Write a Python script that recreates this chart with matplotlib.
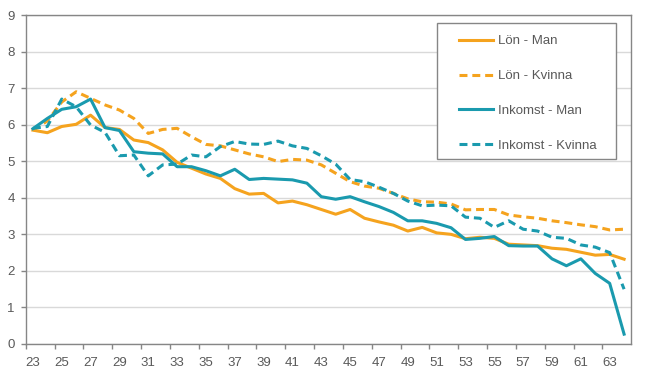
import matplotlib
matplotlib.use("Agg")
import matplotlib.pyplot as plt
from matplotlib.patches import Rectangle
from matplotlib.ticker import FixedLocator

ages = list(range(23, 65))

lon_man = [5.85, 5.78, 5.95, 6.01, 6.26, 5.92, 5.87, 5.58, 5.51, 5.31,
           4.97, 4.81, 4.65, 4.53, 4.25, 4.10, 4.12, 3.86, 3.91, 3.81,
           3.68, 3.55, 3.68, 3.44, 3.34, 3.25, 3.09, 3.19, 3.04, 3.00,
           2.88, 2.92, 2.89, 2.73, 2.71, 2.69, 2.62, 2.59, 2.51, 2.43,
           2.45, 2.32]
lon_kvinna = [5.85, 6.10, 6.62, 6.90, 6.72, 6.54, 6.40, 6.17, 5.76, 5.87,
              5.90, 5.67, 5.46, 5.42, 5.31, 5.20, 5.12, 4.99, 5.05, 5.03,
              4.90, 4.67, 4.44, 4.32, 4.26, 4.12, 3.97, 3.89, 3.88, 3.83,
              3.67, 3.68, 3.68, 3.53, 3.48, 3.44, 3.37, 3.32, 3.26, 3.21,
              3.12, 3.14]
ink_man = [5.89, 6.17, 6.42, 6.49, 6.70, 5.92, 5.84, 5.26, 5.22, 5.20,
           4.85, 4.85, 4.74, 4.60, 4.78, 4.50, 4.53, 4.51, 4.49, 4.40,
           4.03, 3.96, 4.03, 3.89, 3.76, 3.60, 3.37, 3.37, 3.30, 3.18,
           2.86, 2.89, 2.94, 2.69, 2.68, 2.68, 2.33, 2.14, 2.33, 1.93,
           1.66, 0.27]
ink_kvinna = [5.90, 5.95, 6.70, 6.49, 5.99, 5.79, 5.15, 5.17, 4.60, 4.90,
              4.92, 5.17, 5.12, 5.40, 5.54, 5.47, 5.46, 5.55, 5.42, 5.35,
              5.15, 4.92, 4.50, 4.44, 4.29, 4.12, 3.91, 3.78, 3.80, 3.78,
              3.47, 3.44, 3.19, 3.37, 3.14, 3.09, 2.92, 2.89, 2.71, 2.65,
              2.50, 1.50]

labels = ["Lön - Man", "Lön - Kvinna", "Inkomst - Man", "Inkomst - Kvinna"]
tick_ages = list(range(23, 64, 2))

ORANGE = "#F5A31E"
TEAL = "#1A9AAE"
GRAY = "#868686"
TXT = "#595959"

plt.rcParams['font.family'] = ['Liberation Sans', 'DejaVu Sans']

fig = plt.figure(figsize=(6.46, 3.83), dpi=100)
ax = fig.add_axes([25.7/646, 1 - 344/383, (631.3-25.7)/646, (344-15)/383])

lw = 2.2
l1, = ax.plot(ages, lon_man, color=ORANGE, lw=lw, label=labels[0], solid_joinstyle='round')
l2, = ax.plot(ages, lon_kvinna, color=ORANGE, lw=lw, dashes=(2.6, 1.6), label=labels[1])
l3, = ax.plot(ages, ink_man, color=TEAL, lw=lw, label=labels[2], solid_joinstyle='round')
l4, = ax.plot(ages, ink_kvinna, color=TEAL, lw=lw, dashes=(2.6, 1.6), label=labels[3])

ax.set_xlim(22.5, 64.5)
ax.set_ylim(0, 9)
ax.set_yticks(range(0, 10))
ax.yaxis.grid(True, color="#D9D9D9", lw=1)
ax.set_axisbelow(True)

ax.set_xticks(tick_ages)
ax.set_xticklabels([str(a) for a in tick_ages])
ax.xaxis.set_minor_locator(FixedLocator([22.5 + 2*k for k in range(21)]))
ax.tick_params(axis='x', which='major', length=0, pad=9.5, labelsize=9.5, labelcolor=TXT)
ax.tick_params(axis='x', which='minor', length=3.3, width=1, color=GRAY, direction='out')
ax.tick_params(axis='y', which='major', length=3.3, width=1, color=GRAY, pad=4.5,
               labelsize=9.5, labelcolor=TXT)

for s in ax.spines.values():
    s.set_color(GRAY)
    s.set_linewidth(1)

# legend box
x0 = (436.7 - 25.7) / 605.6
x1 = (616 - 25.7) / 605.6
y1 = (344 - 23.3) / 329
y0 = (344 - 159.3) / 329
ax.add_patch(Rectangle((x0, y0), x1 - x0, y1 - y0, transform=ax.transAxes,
                       facecolor='white', edgecolor=GRAY, lw=1, zorder=5))
leg = ax.legend(handles=[l1, l2, l3, l4], loc='upper left',
                bbox_to_anchor=((459 - 25.7) / 605.6, (344 - 35) / 329),
                frameon=False, fontsize=9.5, labelspacing=1.72, handlelength=2.6,
                handletextpad=0.35, borderpad=0, borderaxespad=0, labelcolor=TXT)
leg.set_zorder(6)

fig.savefig("out.png", dpi=100)
